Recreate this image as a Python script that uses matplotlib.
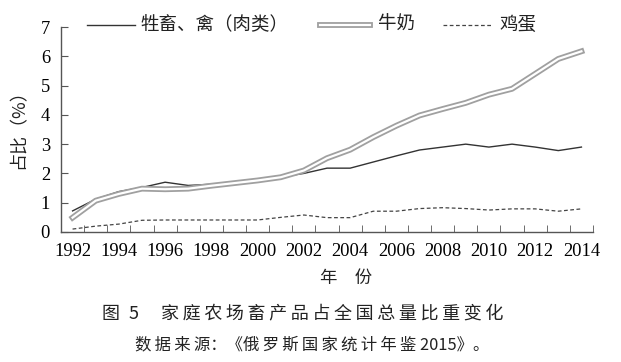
import numpy as np
import matplotlib
matplotlib.use('Agg')
import matplotlib.pyplot as plt
import matplotlib.patheffects as pe
from matplotlib.lines import Line2D
from matplotlib.ticker import FixedLocator

years = np.arange(1992, 2015)
meat = [0.72, 1.12, 1.38, 1.52, 1.70, 1.59, 1.63, 1.70, 1.78, 1.88, 2.0, 2.18, 2.18,
        2.39, 2.6, 2.8, 2.9, 3.0, 2.9, 3.0, 2.9, 2.78, 2.9]
milk = [0.49, 1.07, 1.30, 1.48, 1.46, 1.48, 1.58, 1.67, 1.76, 1.87, 2.10, 2.52, 2.81,
        3.24, 3.63, 3.98, 4.20, 4.41, 4.69, 4.89, 5.40, 5.91, 6.17]
eggs = [0.10, 0.20, 0.27, 0.40, 0.41, 0.41, 0.41, 0.41, 0.41, 0.50, 0.58, 0.49, 0.49,
        0.71, 0.71, 0.80, 0.83, 0.80, 0.75, 0.79, 0.79, 0.71, 0.79]
labels = ['牲畜、禽（肉类）', '牛奶', '鸡蛋']
xticks = np.arange(1992, 2015, 2)

cjk = ['Noto Sans CJK SC', 'DejaVu Sans']
num = 'Liberation Serif'
W, H = 621, 362

meat_style = dict(color='#333333', lw=1.0)
milk_style = dict(color='white', lw=1.6,
                  path_effects=[pe.Stroke(linewidth=4.2, foreground='#a0a0a0'), pe.Normal()])
egg_style = dict(color='#444444', lw=0.9, ls=(0, (3, 2)))

fig = plt.figure(figsize=(W/100, H/100), dpi=100)
ax = fig.add_axes([61/W, 1 - 232/H, 532/W, 205/H])

ax.plot(years, meat, **meat_style)
ax.plot(years, milk, **milk_style)
ax.plot(years, eggs, **egg_style)

ax.set_xlim(1991.5, 2014.5)
ax.set_ylim(0, 7)
ax.set_xticks(xticks)
ax.set_xticklabels([str(y) for y in xticks], family=num, fontsize=13.3)
ax.xaxis.set_minor_locator(FixedLocator(np.arange(1991.5, 2015, 1)))
ax.tick_params(axis='x', which='major', length=0, pad=8)
ax.tick_params(axis='x', which='minor', direction='in', length=5, color='#555555')
ax.set_yticks(range(8))
ax.set_yticklabels([str(i) for i in range(8)], family=num, fontsize=13.3)
ax.tick_params(axis='y', direction='in', length=5, pad=8, color='#555555')
for s in ['top', 'right']:
    ax.spines[s].set_visible(False)
for s in ['left', 'bottom']:
    ax.spines[s].set_color('#555555')
    ax.spines[s].set_linewidth(1.0)

# legend above the plot, laid out by hand
ly = 1 - 25/H
for (x0, x1, tx), lab, st in zip([(87, 135, 140), (320, 370, 378), (443, 493, 500)],
                                 labels, [meat_style, milk_style, egg_style]):
    fig.add_artist(Line2D([x0/W, x1/W], [ly, ly], transform=fig.transFigure, **st))
    fig.text(tx/W, ly, lab, ha='left', va='center', family=cjk, fontsize=13.3,
             color='#222222')

fig.text(18/W, 1 - 125/H, '占比（%）', rotation=90, ha='center', va='center',
         family=cjk, fontsize=13, color='#222222')
fig.text(346/W, 1 - 278/H, '年\u2003份', ha='center', va='center',
         family=cjk, fontsize=12.5, color='#222222')
fig.text(102/W, 1 - 313/H, '图\u20025\u2003 ' + '\u2009'.join('家庭农场畜产品占全国总量比重变化'),
         ha='left', va='center', family=cjk, fontsize=13, color='#222222')
fig.text(135/W, 1 - 345/H, '\u2009'.join('数据来源') + '：《' + '\u2009'.join('俄罗斯国家统计年鉴')
         + ' 2015》。', ha='left', va='center', family=cjk, fontsize=11.8, color='#222222')

fig.savefig('out.png', dpi=100)
